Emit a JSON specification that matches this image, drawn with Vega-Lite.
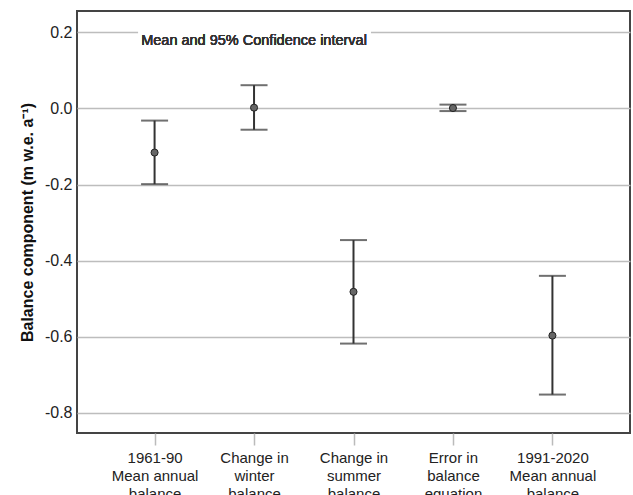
{
  "$schema": "https://vega.github.io/schema/vega-lite/v6.json",
  "width": 553,
  "height": 422,
  "autosize": "none",
  "padding": {"left": 77, "top": 11, "right": 3, "bottom": 62},
  "config": {
    "font": "Liberation Sans",
    "view": {"stroke": "#444", "strokeWidth": 2}
  },
  "data": {
    "values": [
      {"component": "1961-90|Mean annual|balance", "mean": -0.116, "lower": -0.199, "upper": -0.032},
      {"component": "Change in|winter|balance", "mean": 0.002, "lower": -0.056, "upper": 0.061},
      {"component": "Change in|summer|balance", "mean": -0.482, "lower": -0.618, "upper": -0.346},
      {"component": "Error in|balance|equation", "mean": 0.001, "lower": -0.007, "upper": 0.01},
      {"component": "1991-2020|Mean annual|balance", "mean": -0.597, "lower": -0.752, "upper": -0.44}
    ]
  },
  "encoding": {
    "x": {
      "field": "component",
      "type": "ordinal",
      "sort": null,
      "scale": {
        "type": "point",
        "padding": 0.78,
        "domain": ["1961-90|Mean annual|balance", "Change in|winter|balance", "Change in|summer|balance", "Error in|balance|equation", "1991-2020|Mean annual|balance"]
      },
      "axis": {
        "title": null,
        "labelAngle": 0,
        "labelExpr": "split(datum.label, '|')",
        "labelFontSize": 15,
        "labelLineHeight": 18,
        "labelColor": "#222",
        "labelPadding": 5,
        "tickColor": "#bbb",
        "tickWidth": 1.5,
        "tickSize": 12,
        "domain": false,
        "grid": false
      }
    }
  },
  "layer": [
    {
      "mark": {"type": "rect", "fill": "white", "xOffset": -16, "x2Offset": 17},
      "encoding": {
        "x": {"datum": "1961-90|Mean annual|balance"},
        "x2": {"datum": "Change in|summer|balance"},
        "y": {"datum": 0.194, "type": "quantitative"},
        "y2": {"datum": 0.206}
      }
    },
    {
      "mark": {"type": "text", "fontSize": 14.5, "fontWeight": "normal", "color": "#333", "align": "center", "baseline": "middle"},
      "encoding": {
        "x": {"datum": "Change in|winter|balance"},
        "y": {"datum": 0.176, "type": "quantitative"},
        "text": {"value": "Mean and 95% Confidence interval"}
      }
    },
    {
      "mark": {"type": "rule", "stroke": "#333", "strokeWidth": 2},
      "encoding": {
        "y": {
          "field": "lower",
          "type": "quantitative",
          "scale": {"domain": [-0.853, 0.256], "nice": false, "zero": false},
          "axis": {
            "title": "Balance component (m w.e. a⁻¹)",
            "titleFontSize": 16,
            "titleFontWeight": "bold",
            "titleColor": "#111",
            "titlePadding": 9,
            "values": [-0.8, -0.6, -0.4, -0.2, 0, 0.2],
            "labelExpr": "datum.value < 0 ? '-' + format(-datum.value, '.1f') : format(datum.value, '.1f')",
            "labelFontSize": 16,
            "labelColor": "#222",
            "labelPadding": 5,
            "ticks": false,
            "domain": false,
            "grid": true,
            "gridColor": "#bdbdbd",
            "gridWidth": 1.5
          }
        },
        "y2": {"field": "upper"}
      }
    },
    {
      "mark": {"type": "tick", "color": "#333", "size": 27, "thickness": 2},
      "encoding": {"y": {"field": "lower", "type": "quantitative"}}
    },
    {
      "mark": {"type": "tick", "color": "#333", "size": 27, "thickness": 2},
      "encoding": {"y": {"field": "upper", "type": "quantitative"}}
    },
    {
      "mark": {"type": "point", "shape": "circle", "filled": true, "size": 50, "fill": "#666", "stroke": "#222", "strokeWidth": 1, "opacity": 1},
      "encoding": {"y": {"field": "mean", "type": "quantitative"}}
    }
  ]
}
